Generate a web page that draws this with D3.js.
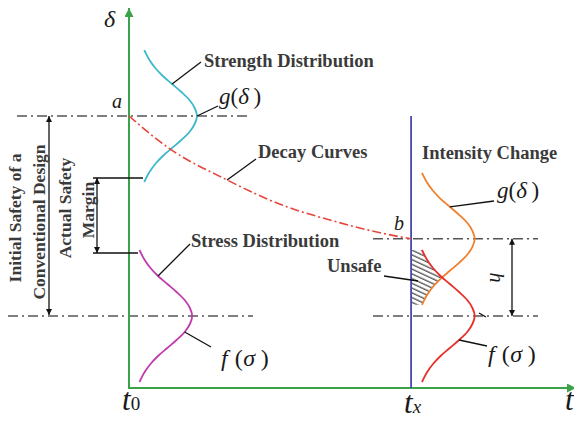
<!DOCTYPE html>
<meta charset="utf-8">
<head>
  <title>Strength / stress interference with decay</title>
  <style>
    body { margin: 0; background: #fff; }
    .lbl { font-family: "Liberation Serif", serif; font-weight: bold; fill: #3a3a3a; font-size: 18.5px; }
    .math { font-family: "Liberation Serif", serif; fill: #1a1a1a; }
  </style>
</head>
<body>
<script src="https://cdn.jsdelivr.net/npm/d3@7/dist/d3.min.js"></script>
<div id="chart"></div>
<script>
  // time axis ticks
  var timeTicks = [0, 6.47];
  var timeSubs = ['0', 'x'];

  // decay of the strength mean
  var decayT = [0, 0.87, 2.25, 3.62, 4.61, 5.76, 6.47];
  var decayDelta = [70, 62.3, 54, 47.3, 44, 40.8, 39.3];

  // shape of each bell curve: offset from the mean vs relative density
  var densityOffset = [-16.5, -14, -12, -10, -8, -6, -4, -2, 0, 2, 4, 6, 8, 10, 12, 14, 16.5];
  var densityValue = [0.09, 0.18, 0.28, 0.41, 0.57, 0.73, 0.87, 0.96, 1, 0.96, 0.87, 0.73, 0.57, 0.41, 0.28, 0.18, 0.09];

  // the four distributions
  var distNames = ['strength0', 'stress0', 'strengthX', 'stressX'];
  var distMeans = [70, 20, 39.3, 20];
  var distBaseT = [0.23, 0.12, 6.6, 6.6];
  var densityWidth = 1.33;

  var width = 574, height = 422;
  var colors = { strength0: '#3db9cb', stress0: '#c23cae', strengthX: '#f0802c', stressX: '#e8302a' };

  var x = d3.scaleLinear().domain([0, 10]).range([129, 565]);
  var y = d3.scaleLinear().domain([0, 100]).range([396, -4]);

  var svg = d3.select('#chart').append('svg')
    .attr('width', width).attr('height', height);

  var defs = svg.append('defs');
  function marker(id, color, w, l) {
    defs.append('marker').attr('id', id)
      .attr('viewBox', '0 0 10 10').attr('refX', 10).attr('refY', 5)
      .attr('markerUnits', 'userSpaceOnUse')
      .attr('markerWidth', l).attr('markerHeight', w)
      .attr('orient', 'auto-start-reverse')
      .append('path').attr('d', 'M0,0L10,5L0,10Z').attr('fill', color);
  }
  marker('arrG', '#3ca24a', 9, 11);
  marker('arrK', '#111', 6, 8);

  var pat = defs.append('pattern').attr('id', 'hatch')
    .attr('patternUnits', 'userSpaceOnUse').attr('width', 8).attr('height', 4.3)
    .attr('patternTransform', 'rotate(25)');
  pat.append('line').attr('x1', 0).attr('x2', 8).attr('y1', 1).attr('y2', 1)
    .attr('stroke', '#333').attr('stroke-width', 1.1);

  function distPoints(i) {
    return densityOffset.map(function(o, k) {
      return { px: x(distBaseT[i] + densityValue[k] * densityWidth), py: y(distMeans[i] + o) };
    });
  }
  function pt(i, o) {
    var k = densityOffset.indexOf(o);
    return [x(distBaseT[i] + densityValue[k] * densityWidth), y(distMeans[i] + o)];
  }

  // dash-dot reference levels
  function hdash(x1, x2, v) {
    svg.append('line').attr('x1', x1).attr('x2', x2).attr('y1', y(v)).attr('y2', y(v))
      .attr('stroke', '#555').attr('stroke-width', 1.5).attr('stroke-dasharray', '10,4,2,4');
  }
  hdash(17, 247, distMeans[0]);
  hdash(8, 253, distMeans[1]);
  hdash(373, 538, distMeans[2]);
  hdash(373, 538, distMeans[3]);

  // hatched unsafe zone: left of both curves at t_x
  var areaFn = d3.area().curve(d3.curveCatmullRom)
    .y(function(d) { return d.py; })
    .x0(x(timeTicks[1])).x1(function(d) { return d.px; });
  defs.append('clipPath').attr('id', 'clipRed').append('path').attr('d', areaFn(distPoints(3)));
  defs.append('clipPath').attr('id', 'clipOrange').append('path').attr('d', areaFn(distPoints(2)));
  svg.append('g').attr('clip-path', 'url(#clipRed)')
    .append('g').attr('clip-path', 'url(#clipOrange)')
    .append('rect').attr('x', x(timeTicks[1])).attr('y', y(distMeans[2]))
    .attr('width', 40).attr('height', y(distMeans[3]) - y(distMeans[2]))
    .attr('fill', 'url(#hatch)');

  // bell curves
  var lineFn = d3.line().curve(d3.curveCatmullRom)
    .x(function(d) { return d.px; }).y(function(d) { return d.py; });
  distNames.forEach(function(n, i) {
    svg.append('path').attr('d', lineFn(distPoints(i)))
      .attr('fill', 'none').attr('stroke', colors[n]).attr('stroke-width', 1.8);
  });

  // axes
  svg.append('line').attr('x1', x(0)).attr('x2', x(0)).attr('y1', 388).attr('y2', 8)
    .attr('stroke', '#3ca24a').attr('stroke-width', 2).attr('marker-end', 'url(#arrG)');
  svg.append('line').attr('x1', x(0) - 1).attr('x2', 576).attr('y1', 388).attr('y2', 388)
    .attr('stroke', '#3ca24a').attr('stroke-width', 2).attr('marker-end', 'url(#arrG)');

  // t_x line
  svg.append('line').attr('x1', x(timeTicks[1])).attr('x2', x(timeTicks[1]))
    .attr('y1', y(distMeans[0])).attr('y2', 388)
    .attr('stroke', '#4747b2').attr('stroke-width', 1.8);

  // decay curve
  var decay = decayT.map(function(t, k) { return [x(t), y(decayDelta[k])]; });
  svg.append('path').attr('d', d3.line().curve(d3.curveMonotoneX)(decay))
    .attr('fill', 'none').attr('stroke', '#e8453a').attr('stroke-width', 1.6)
    .attr('stroke-dasharray', '9,3,2,3');

  // annotation lines
  function seg(a, b, arrows) {
    var l = svg.append('line').attr('x1', a[0]).attr('y1', a[1]).attr('x2', b[0]).attr('y2', b[1])
      .attr('stroke', '#111').attr('stroke-width', 1.3);
    if (arrows) l.attr('marker-start', 'url(#arrK)').attr('marker-end', 'url(#arrK)');
  }
  seg(pt(0, 8), [201, 62]);
  seg(pt(0, 0), [218, 106]);
  seg(decay[2], [256, 159]);
  seg(pt(1, 10), [190, 244]);
  seg(pt(1, -4), [211, 347]);
  seg(pt(2, 8), [494, 201]);
  seg(pt(3, -6), [487, 346]);
  seg([479, 313], [486, 317]);
  seg([384, 276], [418, 281]);

  // safety brackets
  seg([49, y(distMeans[0])], [49, y(distMeans[1]) - 1], true);
  seg([93, 178], [143, 178]);
  seg([93, 253], [138, 253]);
  seg([97, 178], [97, 253], true);
  seg([512, y(distMeans[2])], [512, y(distMeans[3])], true);

  // bold labels
  function lbl(txt, px, py, rot, size) {
    var t = svg.append('text').attr('class', 'lbl').text(txt);
    if (size) t.style('font-size', size + 'px');
    if (rot) t.attr('text-anchor', 'middle').attr('transform', 'translate(' + px + ',' + py + ') rotate(' + rot + ')');
    else t.attr('x', px).attr('y', py);
    return t;
  }
  lbl('Strength Distribution', 204, 67);
  lbl('Decay Curves', 258, 158);
  lbl('Intensity Change', 422, 159);
  lbl('Stress Distribution', 191, 247);
  lbl('Unsafe', 327, 272);
  lbl('Initial Safety of a', 21, 218, -90, 17.5);
  lbl('Conventional Design', 45, 222, -90, 17.5);
  lbl('Actual Safety', 71, 208, -90, 17.5);
  lbl('Margin', 94, 210, -90, 17.5);

  // math labels
  function math(parts, px, py, size) {
    var t = svg.append('text').attr('class', 'math').attr('x', px).attr('y', py)
      .style('font-size', size + 'px');
    parts.forEach(function(p) {
      var s = t.append('tspan').text(p[0]).style('font-style', p[1] ? 'italic' : 'normal');
      if (p[2]) s.style('font-size', p[2] + 'px');
    });
    return t;
  }
  math([['g', 1], ['(', 0], ['\u03b4', 1], ['\u2009)', 0]], 219, 104, 23);
  math([['g', 1], ['(', 0], ['\u03b4', 1], ['\u2009)', 0]], 497, 198, 23);
  math([['f', 1], [' (', 0], ['\u03c3', 1], ['\u2009)', 0]], 221, 366, 24).style('letter-spacing', '0.5px');
  math([['f', 1], [' (', 0], ['\u03c3', 1], ['\u2009)', 0]], 488, 362, 24).style('letter-spacing', '0.5px');
  math([['\u03b4', 1]], 104, 27, 24);
  math([['a', 1]], 112, 108, 20);
  math([['b', 1]], 394, 230, 20);
  svg.append('text').attr('class', 'math').style('font-style', 'italic').style('font-size', '20px')
    .attr('text-anchor', 'middle')
    .attr('transform', 'translate(490,' + y((distMeans[2] + distMeans[3]) / 2) + ') rotate(90)')
    .text('h');

  timeTicks.forEach(function(t, i) {
    math([['t', 1], [timeSubs[i], i === 1, 19]], x(t) - 7, 410 + i * 3, 31);
  });
  math([['t', 1]], 565, 410, 31);
</script>
</body>
